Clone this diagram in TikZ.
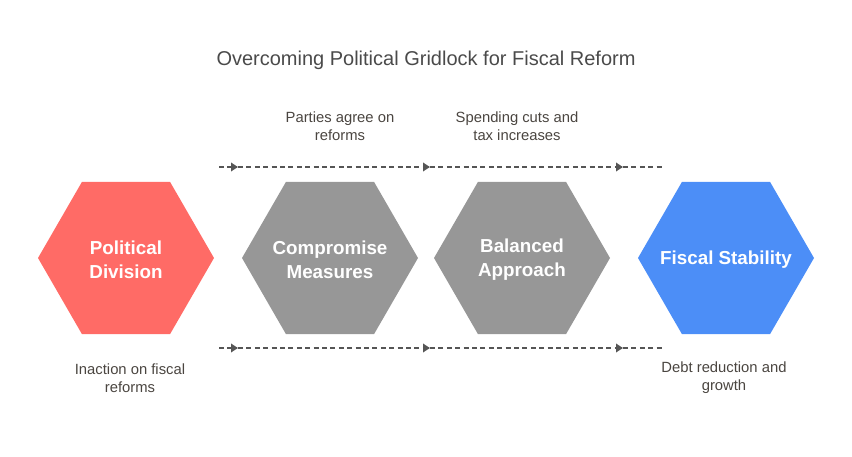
\documentclass[tikz,border=0pt]{standalone}
\usepackage{fontspec}
\setmainfont{Liberation Sans}
\usetikzlibrary{shapes.geometric}
\usetikzlibrary{arrows.meta}
\usetikzlibrary{positioning}

\definecolor{hexred}{HTML}{FF6B66}
\definecolor{hexgray}{HTML}{979797}
\definecolor{hexblue}{HTML}{4C8EF7}
\definecolor{linegray}{HTML}{555555}
\definecolor{notecol}{HTML}{4A4540}
\definecolor{titlecol}{HTML}{4A4A4A}

\begin{document}
\begin{tikzpicture}[x=1pt,y=-1pt,
hexa/.style={regular polygon, regular polygon sides=6, minimum size=176pt,
  inner sep=0pt},
hexlabel/.style={text=white, align=center, yshift=-1.5pt,
  font=\fontsize{18.8}{24}\selectfont\bfseries},
note/.style={text=notecol, align=center, font=\fontsize{14.8}{18}\selectfont},
flow/.style={draw=linegray, line width=1.8pt, dash pattern=on 5pt off 3.4pt,
  -{Triangle[length=7pt,width=8.5pt]}},
flowend/.style={draw=linegray, line width=1.8pt, dash pattern=on 5pt off 3.4pt}]
\useasboundingbox (0,0) rectangle (852,456);

\node (title) at (426,60) [text=titlecol, font=\fontsize{20}{24}\selectfont]
  {Overcoming Political Gridlock for Fiscal Reform};

% the four stages
\node[hexa, fill=hexred, label={[hexlabel]center:Political\\Division}]
  (div) at (126,258) {};
\node[hexa, fill=hexgray, label={[hexlabel]center:Compromise\\Measures}]
  (com) at (330,258) {};
\node[hexa, fill=hexgray, label={[hexlabel]center:Balanced\\Approach}]
  (bal) at (522,258) {};
\node[hexa, fill=hexblue, label={[hexlabel]center:Fiscal Stability}]
  (sta) at (726,258) {};

% notes
\node[note] (n1) at (340,126) {Parties agree on\\reforms};
\node[note] (n2) at (517,126) {Spending cuts and\\tax increases};
\node[note] (n3) at (130,378) {Inaction on fiscal\\reforms};
\node[note] (n4) at (724,378) {Debt reduction and\\growth};

% dashed flow lines
\coordinate (t0) at (219,167);
\coordinate (t1) at (238,167);
\coordinate (t2) at (430,167);
\coordinate (t3) at (623,167);
\coordinate (t4) at (662,167);
\coordinate (b0) at (219,348);
\coordinate (b1) at (238,348);
\coordinate (b2) at (430,348);
\coordinate (b3) at (623,348);
\coordinate (b4) at (662,348);
\draw[flow] (t0) -- (t1);
\draw[flow] (t1) -- (t2);
\draw[flow] (t2) -- (t3);
\draw[flowend] (t3) -- (t4);
\draw[flow] (b0) -- (b1);
\draw[flow] (b1) -- (b2);
\draw[flow] (b2) -- (b3);
\draw[flowend] (b3) -- (b4);
\end{tikzpicture}
\end{document}
